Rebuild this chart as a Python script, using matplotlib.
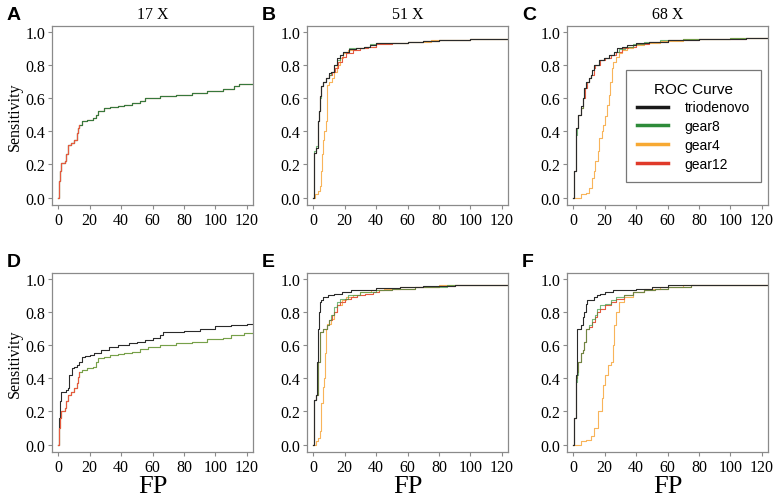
import matplotlib

matplotlib.use("Agg")
import matplotlib.pyplot as plt

plt.rcParams["font.family"] = ["Liberation Serif", "DejaVu Serif"]

coverage_titles = ["17 X", "51 X", "68 X"]
panel_letters = ["A", "B", "C", "D", "E", "F"]
series_names = ["triodenovo", "gear8", "gear4", "gear12"]
series_colors = {"triodenovo": "#1a1a1a", "gear8": "#2e8b3a", "gear4": "#f7a933", "gear12": "#e03a2a"}
line_colors = {"triodenovo": "#2a2a2a", "gear8": "#3d9a45", "gear4": "#f8b45a", "gear12": "#e65a40"}

# ---- panel A (17 X, top) : curves overlap
a_fp = [0, 0.5, 1, 2, 4, 5, 6, 8, 10, 12, 12.5, 13, 15, 18, 22, 24, 25, 29, 33, 38, 42, 47, 52, 55,
        65, 75, 85, 95, 105, 112, 115, 125]
a_sens = [0.0, 0.10, 0.16, 0.21, 0.22, 0.26, 0.32, 0.33, 0.35, 0.39, 0.42, 0.44, 0.46, 0.47, 0.48, 0.50,
          0.52, 0.54, 0.545, 0.55, 0.56, 0.57, 0.585, 0.60, 0.61, 0.62, 0.63, 0.645, 0.655, 0.67, 0.685, 0.688]
a_gear12_fp = [0, 0.5, 1, 2, 4, 5, 6, 8, 10, 12, 12.5, 13]
a_gear12 = [0.0, 0.10, 0.16, 0.21, 0.22, 0.26, 0.32, 0.33, 0.35, 0.39, 0.42, 0.44]

# ---- panel B (51 X, top)
b_trio_fp = [0, 0.5, 1.5, 3, 3.5, 4, 5, 6, 8, 10, 11, 13, 15, 17, 19, 23, 27, 32, 36, 40, 50, 60, 70, 80, 100, 125]
b_trio = [0.0, 0.27, 0.30, 0.46, 0.52, 0.61, 0.67, 0.70, 0.72, 0.75, 0.76, 0.80, 0.84, 0.86, 0.88, 0.895,
          0.90, 0.91, 0.92, 0.93, 0.935, 0.94, 0.945, 0.95, 0.955, 0.958]
b_gear8 = [0.0, 0.28, 0.31, 0.46, 0.52, 0.60, 0.67, 0.70, 0.72, 0.74, 0.76, 0.80, 0.83, 0.86, 0.88, 0.90,
           0.905, 0.91, 0.925, 0.93, 0.935, 0.94, 0.945, 0.95, 0.955, 0.958]
b_gear12_fp = [0, 0.5, 1.5, 3, 3.5, 4, 5, 6, 8, 10, 12, 14, 16, 18, 21, 25, 30, 35, 40, 50, 60, 70, 80, 100, 125]
b_gear12 = [0.0, 0.27, 0.30, 0.46, 0.52, 0.61, 0.67, 0.70, 0.72, 0.74, 0.76, 0.78, 0.82, 0.85, 0.87, 0.89,
            0.90, 0.91, 0.925, 0.935, 0.94, 0.945, 0.95, 0.955, 0.958]
b_gear4_fp = [0, 1, 3, 4, 5, 5.5, 6, 7, 8, 8.5, 9, 10, 12, 13, 15, 17, 19, 22, 27, 33, 40, 50, 60, 75, 100, 125]
b_gear4 = [0.0, 0.02, 0.04, 0.07, 0.16, 0.26, 0.35, 0.40, 0.46, 0.66, 0.68, 0.70, 0.72, 0.76, 0.80, 0.84,
           0.87, 0.89, 0.90, 0.91, 0.93, 0.935, 0.94, 0.95, 0.955, 0.958]

# ---- panel C (68 X, top)
c_trio_fp = [0, 0.6, 1.6, 3, 5, 6.5, 7, 8, 10, 11, 12, 13, 16.5, 19.5, 23, 25.7, 28, 31, 34, 40, 48, 60, 80, 110, 125]
c_trio = [0.0, 0.16, 0.42, 0.50, 0.55, 0.60, 0.66, 0.70, 0.72, 0.74, 0.77, 0.80, 0.83, 0.84, 0.86, 0.88,
          0.90, 0.91, 0.92, 0.93, 0.94, 0.95, 0.955, 0.96, 0.96]
c_gear8_fp = [0, 0.6, 1.6, 2.5, 3, 5, 6.5, 7, 8, 10, 11, 12, 13, 16.5, 19.5, 23, 26, 29, 33, 38, 45, 55, 70, 100, 125]
c_gear8 = [0.0, 0.16, 0.38, 0.42, 0.50, 0.54, 0.60, 0.66, 0.70, 0.72, 0.74, 0.77, 0.80, 0.83, 0.84, 0.86,
           0.88, 0.895, 0.91, 0.925, 0.94, 0.95, 0.955, 0.96, 0.96]
c_gear12_fp = [0, 0.6, 1.6, 3, 5, 6.5, 7.5, 8.5, 10, 11.5, 13, 14, 17, 20, 24, 27, 31, 35, 40, 48, 60, 80, 110, 125]
c_gear12 = [0.0, 0.16, 0.42, 0.50, 0.54, 0.60, 0.66, 0.70, 0.72, 0.74, 0.78, 0.80, 0.83, 0.84, 0.86, 0.88,
            0.90, 0.91, 0.925, 0.94, 0.95, 0.955, 0.96, 0.96]
c_gear4_fp = [0, 5, 8, 10, 12, 13, 14, 15.5, 16.5, 18, 19, 20, 21.5, 22.5, 23.5, 24.5, 25.5, 27, 29, 31, 34,
              38, 45, 55, 70, 100, 125]
c_gear4 = [0.0, 0.02, 0.03, 0.06, 0.12, 0.16, 0.22, 0.28, 0.36, 0.40, 0.44, 0.49, 0.56, 0.62, 0.70, 0.78,
           0.82, 0.85, 0.87, 0.89, 0.90, 0.92, 0.935, 0.945, 0.955, 0.96, 0.96]

# ---- panel D (17 X, bottom)
d_trio_fp = [0, 0.5, 1, 2, 5, 6, 7, 9, 10, 12, 13, 15, 17, 20, 23, 27, 32, 38, 45, 50, 55, 60, 65, 67,
             80, 90, 100, 110, 120, 125]
d_trio = [0.0, 0.16, 0.26, 0.32, 0.33, 0.34, 0.42, 0.46, 0.47, 0.48, 0.50, 0.53, 0.535, 0.54, 0.55, 0.57,
          0.59, 0.60, 0.61, 0.62, 0.63, 0.645, 0.66, 0.68, 0.685, 0.70, 0.715, 0.72, 0.725, 0.73]
d_gear_fp = [0, 0.5, 1, 2, 4, 5, 6, 8, 10, 12, 12.5, 13, 15, 18, 22, 24, 25, 29, 33, 38, 42, 47, 52, 57,
             65, 75, 85, 95, 105, 110, 118, 125]
d_gear = [0.0, 0.10, 0.16, 0.20, 0.22, 0.26, 0.30, 0.32, 0.34, 0.37, 0.41, 0.44, 0.45, 0.46, 0.47, 0.50,
          0.52, 0.53, 0.54, 0.545, 0.55, 0.56, 0.575, 0.59, 0.60, 0.61, 0.62, 0.635, 0.645, 0.66, 0.675, 0.68]
d_gear12_fp = [0, 0.5, 1, 2, 4, 5, 6, 8, 10, 12, 12.5, 13]
d_gear12 = [0.0, 0.10, 0.16, 0.20, 0.22, 0.26, 0.30, 0.32, 0.34, 0.37, 0.41, 0.44]

# ---- panel E (51 X, bottom)
e_trio_fp = [0, 0.3, 1.5, 2.5, 3, 3.5, 4, 5, 6.5, 9.5, 13.5, 18, 24, 30, 40, 55, 70, 90, 125]
e_trio = [0.0, 0.27, 0.30, 0.50, 0.70, 0.80, 0.86, 0.87, 0.89, 0.90, 0.91, 0.92, 0.93, 0.935, 0.945, 0.95,
          0.955, 0.96, 0.962]
e_gear8_fp = [0, 0.5, 1.5, 3, 4, 4.5, 6, 9, 10, 11, 13, 15, 17, 22, 30, 40, 50, 65, 85, 125]
e_gear8 = [0.0, 0.27, 0.30, 0.50, 0.60, 0.68, 0.70, 0.72, 0.75, 0.78, 0.83, 0.86, 0.88, 0.90, 0.92, 0.935,
           0.94, 0.95, 0.96, 0.962]
e_gear12_fp = [0, 0.5, 1.5, 3, 4, 4.5, 6, 9, 10, 12, 13, 15, 17, 20, 24, 28, 33, 38, 42, 50, 65, 80, 90, 125]
e_gear12 = [0.0, 0.27, 0.30, 0.50, 0.60, 0.68, 0.70, 0.72, 0.75, 0.78, 0.80, 0.84, 0.86, 0.88, 0.89, 0.90,
            0.91, 0.92, 0.93, 0.94, 0.95, 0.955, 0.96, 0.962]
e_gear4_fp = [0, 1.5, 3, 4.5, 5, 6, 7, 7.5, 8, 9, 11, 13, 15, 18, 21, 25, 30, 37, 45, 55, 80, 125]
e_gear4 = [0.0, 0.02, 0.04, 0.08, 0.25, 0.35, 0.40, 0.55, 0.70, 0.73, 0.76, 0.80, 0.84, 0.87, 0.89, 0.90,
           0.92, 0.93, 0.94, 0.95, 0.96, 0.962]

# ---- panel F (68 X, bottom)
f_trio_fp = [0, 0.6, 1.6, 2.6, 5, 6, 7, 8, 8.6, 13, 15, 17, 20, 25, 32, 40, 50, 60, 80, 125]
f_trio = [0.0, 0.16, 0.42, 0.70, 0.72, 0.77, 0.80, 0.85, 0.87, 0.89, 0.90, 0.91, 0.92, 0.93, 0.935, 0.94,
          0.95, 0.96, 0.965, 0.965]
f_gear_fp = [0, 0.5, 2, 2.5, 3, 5, 6, 7, 8, 10, 12, 14, 15, 17, 20, 24, 27, 32, 38, 45, 52, 60, 75, 125]
f_gear8 = [0.0, 0.16, 0.38, 0.42, 0.50, 0.55, 0.57, 0.62, 0.70, 0.72, 0.76, 0.78, 0.82, 0.84, 0.85, 0.87,
           0.89, 0.90, 0.92, 0.93, 0.94, 0.95, 0.96, 0.965]
f_gear12 = [0.0, 0.16, 0.40, 0.44, 0.50, 0.55, 0.57, 0.62, 0.70, 0.71, 0.74, 0.77, 0.80, 0.82, 0.84, 0.86,
            0.88, 0.90, 0.92, 0.93, 0.94, 0.95, 0.96, 0.965]
f_gear4_fp = [0, 5, 8, 11, 13, 16, 18, 19, 20, 22, 24, 25, 26, 27, 29, 32, 38, 45, 55, 70, 125]
f_gear4 = [0.0, 0.02, 0.03, 0.05, 0.10, 0.20, 0.28, 0.36, 0.42, 0.48, 0.50, 0.60, 0.72, 0.80, 0.86, 0.89,
           0.92, 0.94, 0.95, 0.96, 0.965]

panels = [
    {"triodenovo": (a_fp, a_sens), "gear8": (a_fp, a_sens), "gear4": (a_fp, a_sens), "gear12": (a_gear12_fp, a_gear12)},
    {"triodenovo": (b_trio_fp, b_trio), "gear8": (b_trio_fp, b_gear8), "gear4": (b_gear4_fp, b_gear4), "gear12": (b_gear12_fp, b_gear12)},
    {"triodenovo": (c_trio_fp, c_trio), "gear8": (c_gear8_fp, c_gear8), "gear4": (c_gear4_fp, c_gear4), "gear12": (c_gear12_fp, c_gear12)},
    {"triodenovo": (d_trio_fp, d_trio), "gear8": (d_gear_fp, d_gear), "gear4": (d_gear_fp, d_gear), "gear12": (d_gear12_fp, d_gear12)},
    {"triodenovo": (e_trio_fp, e_trio), "gear8": (e_gear8_fp, e_gear8), "gear4": (e_gear4_fp, e_gear4), "gear12": (e_gear12_fp, e_gear12)},
    {"triodenovo": (f_trio_fp, f_trio), "gear8": (f_gear_fp, f_gear8), "gear4": (f_gear4_fp, f_gear4), "gear12": (f_gear_fp, f_gear12)},
]

W, H = 780, 502
fig = plt.figure(figsize=(W / 100, H / 100), dpi=100)
col_left = [52, 307, 567]
row_top = [27, 274]
ax_w, ax_h = 201, 179

spine_col = "#8a8a8a"

for i, data in enumerate(panels):
    r, c = divmod(i, 3)
    ax = fig.add_axes([col_left[c] / W, 1 - (row_top[r] + ax_h) / H, ax_w / W, ax_h / H])
    # 17 X: red sits on top of the short low-FP stretch, green tints the black
    if c == 0:
        order = ["gear4", "triodenovo", "gear8", "gear12"]
    else:
        order = ["gear4", "gear12", "gear8", "triodenovo"]
    for name in order:
        x, y = data[name]
        alpha = 0.7 if name == "gear8" else 1.0
        ax.step(x, y, where="post", color=line_colors[name], lw=0.8, alpha=alpha)
    ax.set_xlim(-4, 124)
    ax.set_ylim(-0.045, 1.035)
    ax.set_xticks([0, 20, 40, 60, 80, 100, 120])
    ax.set_yticks([0.0, 0.2, 0.4, 0.6, 0.8, 1.0])
    ax.set_yticklabels(["0.0", "0.2", "0.4", "0.6", "0.8", "1.0"])
    ax.tick_params(labelsize=11.5, length=3, width=0.8, color=spine_col, pad=2)
    for sp in ax.spines.values():
        sp.set_color(spine_col)
        sp.set_linewidth(0.9)
    if r == 0:
        ax.set_title(coverage_titles[c], fontsize=11.5, pad=6)
    else:
        ax.set_xlabel("FP", fontsize=19, labelpad=0)
    if c == 0:
        ax.set_ylabel("Sensitivity", fontsize=11.5, labelpad=2)
    fig.text((col_left[c] - 45) / W, 1 - (row_top[r] - 3) / H, panel_letters[i], family="Liberation Sans",
             fontweight="bold", fontsize=14, va="bottom", ha="left")
    if i == 2:
        handles = [plt.Line2D([], [], color=series_colors[n], lw=2.5) for n in series_names]
        leg = ax.legend(handles, series_names, title="ROC Curve", loc="lower right",
                        bbox_to_anchor=(0.965, 0.128), borderaxespad=0, fancybox=False,
                        prop={"family": "Liberation Sans", "size": 10}, handlelength=2.2,
                        labelspacing=0.35, borderpad=0.8, handletextpad=1.2)
        leg.get_title().set_fontfamily("Liberation Sans")
        leg.get_title().set_fontsize(11)
        leg.get_frame().set_edgecolor("#555555")
        leg.get_frame().set_linewidth(0.9)

fig.savefig("out.png", dpi=100)
